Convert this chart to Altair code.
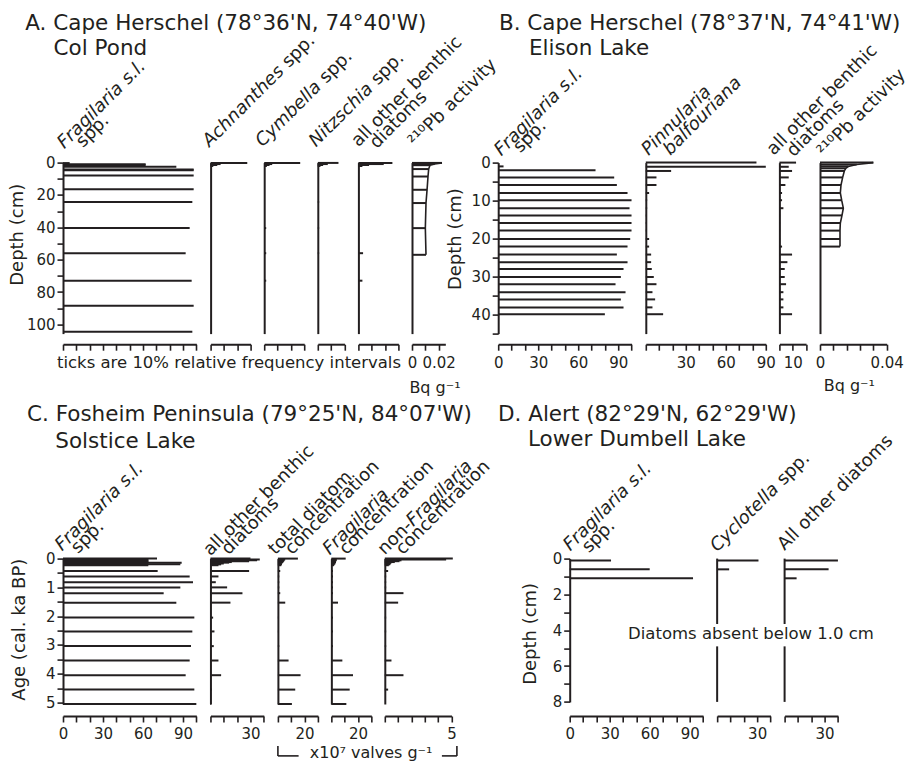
import altair as alt
import pandas as pd

FONT = "DejaVu Sans"
INK = "#231f20"

# ---------------- data ----------------
# A. Cape Herschel, Col Pond  (depth, cm)
a_frag_depth = [0.3, 1.0, 1.6, 2.5, 4.2, 4.7, 8.0, 16.5, 24.3, 40.5, 56.0, 73.0, 88.5, 104.5]
a_frag_val = [5, 62, 62, 85, 98, 98, 98, 98, 97, 95, 92, 96.5, 98, 97]
a_achn_depth = [0.2, 0.9, 1.5, 2.1]
a_achn_val = [27.5, 7.5, 5, 2]
a_cymb_depth = [0.2, 0.9, 1.5, 2.1, 40.5, 56.0, 73.0]
a_cymb_val = [27, 6, 4, 2, 1.5, 1.5, 1.5]
a_nitz_depth = [0.2, 0.9, 1.5, 2.1, 24.3, 40.5, 56.0]
a_nitz_val = [15.5, 7.5, 4, 2, 1, 1, 1]
a_other_depth = [0.2, 0.9, 1.5, 2.1, 56.0, 73.0]
a_other_val = [25.5, 19, 8, 3, 3.5, 3]
a_pb_depth = [0.2, 0.9, 1.6, 4.0, 8.6, 16.8, 25.0, 40.5, 57.0]
a_pb_val = [0.0225, 0.017, 0.0135, 0.0125, 0.012, 0.0113, 0.0105, 0.010, 0.0105]

# B. Cape Herschel, Elison Lake (depth, cm)
b_frag_depth = [1.0, 2.0, 3.9, 5.9, 8.0, 9.9, 12.0, 13.9, 15.9, 17.9, 20.1, 22.1, 24.2,
                26.2, 28.0, 30.1, 32.0, 34.1, 36.0, 38.1, 39.9]
b_frag_val = [4, 73, 87, 89, 97, 100, 98.5, 100, 100, 100, 99, 97, 89, 97, 94, 92, 88,
              95.5, 92, 94, 80]
b_depth = [0.0, 1.1, 2.2, 3.9, 5.9, 8.0, 9.9, 12.0, 13.9, 15.9, 17.9, 20.1, 22.1, 24.2,
           26.2, 28.0, 30.1, 32.0, 34.1, 36.0, 38.1, 39.9]
b_pinn_val = [83, 90, 19, 8, 8, 2.5, 1, 1, 0.5, 0.5, 0.5, 2.5, 2.5, 4, 4, 4.5, 6, 8, 5, 7, 5, 13]
b_other_val = [12.5, 7, 9.5, 7, 4.5, 2, 2, 3, 0.5, 0.5, 0.5, 0.5, 2, 9.5, 6, 4, 4, 5, 3, 3, 3, 9.5]
b_pb_depth = [0.0, 0.5, 1.0, 1.5, 2.2, 3.9, 5.9, 8.0, 9.9, 12.0, 13.9, 15.9, 17.9, 20.1, 22.1]
b_pb_val = [0.032, 0.022, 0.017, 0.0155, 0.0146, 0.0136, 0.0126, 0.0122, 0.013, 0.014,
            0.0132, 0.0122, 0.012, 0.012, 0.012]

# C. Fosheim Peninsula, Solstice Lake (age, cal. ka BP)
c_age = [0.0, 0.03, 0.06, 0.09, 0.12, 0.14, 0.17, 0.20, 0.23, 0.43, 0.62, 0.82, 1.0, 1.2,
         1.53, 2.05, 2.53, 3.04, 3.54, 4.05, 4.55, 5.05]
c_frag_val = [70.5, 64, 64, 64, 64, 89, 64, 88, 64, 71, 95, 97.5, 88, 75.5, 85, 98.5, 97,
              96, 95, 92, 98.5, 100]
c_other_val = [30, 37, 35, 29, 16, 14, 10, 8, 6, 29, 6, 4, 12.5, 24, 15, 2, 3, 2.5, 6, 8, 1, 0.5]
c_total_val = [15, 5.5, 5, 4.5, 4, 3.5, 3, 3, 2.5, 1.75, 1, 1, 1, 1.75, 5.5, 0.5, 0.5, 1, 8,
               17, 13, 10.5]
c_fragconc_val = [10.75, 4, 4, 3.5, 3.5, 3, 3, 2.5, 2, 1.25, 1.25, 1.25, 1.25, 1.25, 5,
                  1.25, 1.25, 1.25, 8.25, 16.25, 13.75, 11.25]
c_nonfrag_val = [5.1, 4.6, 1.25, 1.1, 0.75, 0.5, 0.45, 0.4, 0.3, 0.25, 0.1, 0.1, 0.1, 1.4,
                 1.0, 0.1, 0.1, 0.1, 0.5, 1.4, 0.25, 0.0]

# D. Alert, Lower Dumbell Lake (depth, cm)
d_frag_depth = [0.1, 0.6, 1.1]
d_frag_val = [31, 60, 92.5]
d_cycl_depth = [0.1, 0.6]
d_cycl_val = [31, 9]
d_other_depth = [0.1, 0.6, 1.1]
d_other_val = [40, 33, 9]
d_gap_top = [0.0, 4.9]      # vertical axis pieces around the note
d_gap_bottom = [3.65, 8.0]

# ---------------- helpers ----------------
W = {'a': 613, 'b': 635, 'c': 550, 'd': 635, 'e': 615, 'f': 352, 'g': 635, 'h': 634,
     'i': 278, 'j': 278, 'k': 579, 'l': 278, 'm': 974, 'n': 634, 'o': 612, 'p': 635,
     'q': 635, 'r': 411, 's': 521, 't': 392, 'u': 634, 'v': 592, 'w': 818, 'x': 592,
     'y': 592, 'z': 525, 'A': 684, 'C': 698, 'F': 575, 'N': 748, 'P': 603, ' ': 318,
     '.': 318, '-': 361}
HF = 18  # header font size
TF = 21.5  # panel title font size


def tw(s, fs):
    return sum(W.get(c, 600) for c in s) * fs / 1000.0


def lab_expr(labels):
    e = "''"
    for v, t in labels.items():
        e = f"datum.value == {v} ? '{t}' : ({e})"
    return e


def xaxis(ticks, labels, offset):
    kw = dict(values=ticks, offset=offset, title=None, tickSize=6, labelPadding=5,
              labelFontSize=15, labelFlush=False, labelOverlap=False, grid=False,
              domainWidth=2, tickWidth=1.6)
    if labels:
        kw["labelExpr"] = lab_expr(labels)
    else:
        kw["labels"] = False
    return alt.Axis(**kw)


def yaxis(ticks, labels, title, tx, ty):
    return alt.Axis(values=ticks, labelExpr=lab_expr(labels), title=title, titleX=tx,
                    titleY=ty, titleFontSize=18, titleFontWeight="normal", tickSize=6,
                    labelPadding=2, labelFontSize=15, labelOverlap=False, grid=False,
                    domainWidth=2, tickWidth=1.6)


def txt(s, x, y, size, align="left", baseline="middle", italic=False, angle=0):
    kw = dict(align=align, baseline=baseline, fontSize=size, color=INK, font=FONT)
    if italic:
        kw["fontStyle"] = "italic"
    if angle:
        kw["angle"] = angle
    return alt.Chart(pd.DataFrame({"t": [s]})).mark_text(**kw).encode(
        text="t:N", x=alt.value(x), y=alt.value(y))


def seg(x1, y1, x2, y2):
    return alt.Chart(pd.DataFrame({"k": [0]})).mark_rule(color=INK, strokeWidth=1.6).encode(
        x=alt.value(x1), x2=alt.value(x2), y=alt.value(y1), y2=alt.value(y2))


def headers(lines):
    out = []
    for dx, dy, segs in lines:
        cum = 0.0
        for text, ital in segs:
            if text.startswith(" "):
                cum += tw(" ", HF)
                text = text.lstrip()
            px = dx + cum * 0.7071
            py = dy - cum * 0.7071
            out.append(txt(text, px, py, HF, baseline="alphabetic", italic=bool(ital), angle=315))
            cum += tw(text, HF)
    return out


def panel(depths, values, xdom, width, ydom, height, xticks, xlabels, offset,
          yax=None, head=(), extra=(), profile=False, gap=False):
    xs = alt.Scale(domain=xdom, nice=False, zero=False)
    ys = alt.Scale(domain=ydom, nice=False, zero=False, reverse=True)
    xa = xaxis(xticks, xlabels, offset)
    if yax is not None:
        ya = yax
    elif gap:
        ya = None
    else:
        ya = alt.Axis(ticks=False, labels=False, title=None, grid=False, domainWidth=2)
    df = pd.DataFrame({"depth": depths, "value": values, "zero": [0.0] * len(depths)})
    layers = [alt.Chart(df).mark_rule(color=INK, strokeWidth=2).encode(
        x=alt.X("zero:Q", scale=xs, axis=xa), x2="value:Q",
        y=alt.Y("depth:Q", scale=ys, axis=ya))]
    if profile:
        layers.append(alt.Chart(df).mark_line(color=INK, strokeWidth=1.6).encode(
            x=alt.X("value:Q", scale=xs, axis=xa), y=alt.Y("depth:Q", scale=ys, axis=ya),
            order="depth:Q"))
    if gap:
        gdf = pd.DataFrame({"y1": d_gap_top, "y2": d_gap_bottom, "zero": [0.0, 0.0]})
        layers.append(alt.Chart(gdf).mark_rule(color=INK, strokeWidth=2).encode(
            x=alt.X("zero:Q", scale=xs, axis=xa), y=alt.Y("y1:Q", scale=ys, axis=None),
            y2="y2:Q"))
    layers += headers(head)
    layers += list(extra)
    return alt.layer(*layers).properties(width=width, height=height)


def spacer(w):
    return alt.Chart(pd.DataFrame({"k": [0]})).mark_point(opacity=0).encode(
        x=alt.value(0), y=alt.value(0)).properties(width=w, height=1)


U = 13.333  # one tick interval in px
pct100 = list(range(0, 101, 10))
lab_0_90 = {0: "0", 30: "30", 60: "60", 90: "90"}

# ---------------- A ----------------
HA, YA = 171, [0, 105.7]
ya_A = yaxis(list(range(0, 101, 10)), {v: str(v) for v in range(0, 101, 20)},
             "Depth (cm)", -37, 71.7)
A1 = panel(a_frag_depth, a_frag_val, [0, 100], 10 * U, YA, HA, pct100, {}, 10.6, yax=ya_A,
           head=[(1.3, -13.4, [("Fragilaria s.l.", 1)]), (20, -14.4, [("spp.", 0)])],
           extra=[txt("A. Cape Herschel (78°36'N, 74°40'W)", -37.7, -138.6, TF),
                  txt("Col Pond", -9.4, -113.6, TF),
                  txt("ticks are 10% relative frequency intervals", -6, 200, 16.5)])
A2 = panel(a_achn_depth, a_achn_val, [0, 30], 3 * U, YA, HA, [0, 10, 20, 30], {}, 10.6,
           head=[(-1, -15, [("Achnanthes", 1), (" spp.", 0)])])
A3 = panel(a_cymb_depth, a_cymb_val, [0, 30], 3 * U, YA, HA, [0, 10, 20, 30], {}, 10.6,
           head=[(-1.6, -15, [("Cymbella", 1), (" spp.", 0)])])
A4 = panel(a_nitz_depth, a_nitz_val, [0, 20], 2 * U, YA, HA, [0, 10, 20], {}, 10.6,
           head=[(-1.7, -15, [("Nitzschia", 1), (" spp.", 0)])])
A5 = panel(a_other_depth, a_other_val, [0, 30], 3 * U, YA, HA, [0, 10, 20, 30], {}, 10.6,
           head=[(0, -15, [("all other benthic", 0)]), (18.3, -13.4, [("diatoms", 0)])])
A6 = panel(a_pb_depth, a_pb_val, [0, 0.025], 2.5 * U, YA, HA, [0, 0.01, 0.02],
           {0: "0", 0.02: "0.02"}, 10.6, profile=True,
           head=[(3.3, -15, [("²¹⁰Pb activity", 0)])],
           extra=[txt("Bq g⁻¹", 23, 225, 16, align="center")])

# ---------------- B ----------------
HB, YB = 171, [0, 45]
ya_B = yaxis(list(range(0, 46, 5)), {v: str(v) for v in range(0, 41, 10)},
             "Depth (cm)", -34, 76)
B1 = panel(b_frag_depth, b_frag_val, [0, 100], 10 * U, YB, HB, pct100, lab_0_90, 10.6,
           yax=ya_B,
           head=[(3, -6, [("Fragilaria s.l.", 1)]), (22, -9, [("spp.", 0)])],
           extra=[txt("B. Cape Herschel (78°37'N, 74°41'W)", 0.7, -138.6, TF),
                  txt("Elison Lake", 30.7, -113.6, TF)])
B2 = panel(b_depth, b_pinn_val, [0, 90], 9 * U, YB, HB, list(range(0, 91, 10)),
           {30: "30", 60: "60", 90: "90"}, 10.6,
           head=[(2.7, -6.7, [("Pinnularia", 1)]), (24.4, -6.7, [("balfouriana", 1)])])
B3 = panel(b_depth, b_other_val, [0, 20], 2 * U, YB, HB, [0, 10, 20], {10: "10"}, 10.6,
           head=[(-5.7, -6.7, [("all other benthic", 0)]), (14.3, -5, [("diatoms", 0)])])
B4 = panel(b_pb_depth, b_pb_val, [0, 0.04], 5 * U, YB, HB,
           [0, 0.008, 0.016, 0.024, 0.032, 0.04], {0: "0", 0.04: "0.04"}, 10.6, profile=True,
           head=[(4.3, -5, [("²¹⁰Pb activity", 0)])],
           extra=[txt("Bq g⁻¹", 29.3, 223.3, 16, align="center")])

# ---------------- C ----------------
HC, YC = 145.4, [0, 5.05]
ya_C = yaxis([i / 2 for i in range(11)], {v: str(v) for v in range(6)},
             "Age (cal. ka BP)", -35, 70.6)
C1 = panel(c_age, c_frag_val, [0, 100], 10 * U, YC, HC, pct100, lab_0_90, 12, yax=ya_C,
           head=[(-1, -7, [("Fragilaria s.l.", 1)]), (15, -4.4, [("spp.", 0)])],
           extra=[txt("C. Fosheim Peninsula (79°25'N, 84°07'W)", -36, -143.3, TF),
                  txt("Solstice Lake", -7.7, -116.8, TF)])
C2 = panel(c_age, c_other_val, [0, 40], 4 * U, YC, HC, [0, 10, 20, 30, 40], {30: "30"}, 12,
           head=[(0, -2, [("all other benthic", 0)]), (18, -3, [("diatoms", 0)])])
C3 = panel(c_age, c_total_val, [0, 30], 3 * U, YC, HC, [0, 10, 20, 30], {20: "20"}, 12,
           head=[(-2.7, -3, [("total diatom", 0)]), (14, -3, [("concentration", 0)])],
           extra=[seg(0, 187.3, 0, 197.3), seg(0, 197.3, 20.7, 197.3),
                  txt("x10⁷ valves g⁻¹", 93.2, 194.3, 16, align="center"),
                  seg(164, 197.3, 179, 197.3), seg(179, 187.3, 179, 197.3)])
C4 = panel(c_age, c_fragconc_val, [0, 30], 3 * U, YC, HC, [0, 10, 20, 30], {20: "20"}, 12,
           head=[(-1.6, -3, [("Fragilaria", 1)]), (15, -3, [("concentration", 0)])])
C5 = panel(c_age, c_nonfrag_val, [0, 5], 5 * U, YC, HC, [0, 1, 2, 3, 4, 5], {5: "5"}, 12,
           head=[(0, -3, [("non-", 0), ("Fragilaria", 1)]), (18, -3, [("concentration", 0)])])

# ---------------- D ----------------
HD, YD = 143.3, [0, 8]
ya_D = yaxis(list(range(0, 9)), {v: str(v) for v in range(0, 9, 2)}, "Depth (cm)", -30, 74.8)
D1 = panel(d_frag_depth, d_frag_val, [0, 100], 10 * U, YD, HD, pct100, lab_0_90, 14,
           yax=ya_D,
           head=[(0.6, -7, [("Fragilaria s.l.", 1)]), (19.3, -5, [("spp.", 0)])],
           extra=[txt("D. Alert (82°29'N, 62°29'W)", -71.7, -143.3, TF),
                  txt("Lower Dumbell Lake", -41.7, -118.3, TF),
                  txt("Diatoms absent below 1.0 cm", 181.3, 75.3, 16.5, align="center")])
D2 = panel(d_cycl_depth, d_cycl_val, [0, 40], 4 * U, YD, HD, [0, 10, 20, 30, 40], {30: "30"},
           14, gap=True, head=[(0, -6, [("Cyclotella", 1), (" spp.", 0)])])
D3 = panel(d_other_depth, d_other_val, [0, 40], 4 * U, YD, HD, [0, 10, 20, 30, 40],
           {30: "30"}, 14, gap=True, head=[(0, -7.7, [("All other diatoms", 0)])])

# ---------------- layout (flush: only plot widths count) ----------------
SP1 = 13.6
row1 = alt.hconcat(A1, A2, A3, A4, A5, A6, spacer(51.6 - 2 * SP1), B1, B2, B3, B4,
                   spacing=SP1, bounds="flush")
SP2 = 13.45
row2 = alt.hconcat(C1, C2, C3, C4, C5, spacer(117.4 - 2 * SP2), D1, D2, D3,
                   spacing=SP2, bounds="flush")

chart = alt.vconcat(row1, row2, spacing=396, bounds="flush").properties(
    padding={"left": 7, "top": 12.6, "right": 0, "bottom": 0},
    background="white",
).configure(font=FONT).configure_view(stroke=None).configure_axis(
    labelFont=FONT, titleFont=FONT, labelColor=INK, titleColor=INK,
    domainColor=INK, tickColor=INK)

chart.save("out.html", embed_options={"renderer": "svg", "actions": False})
